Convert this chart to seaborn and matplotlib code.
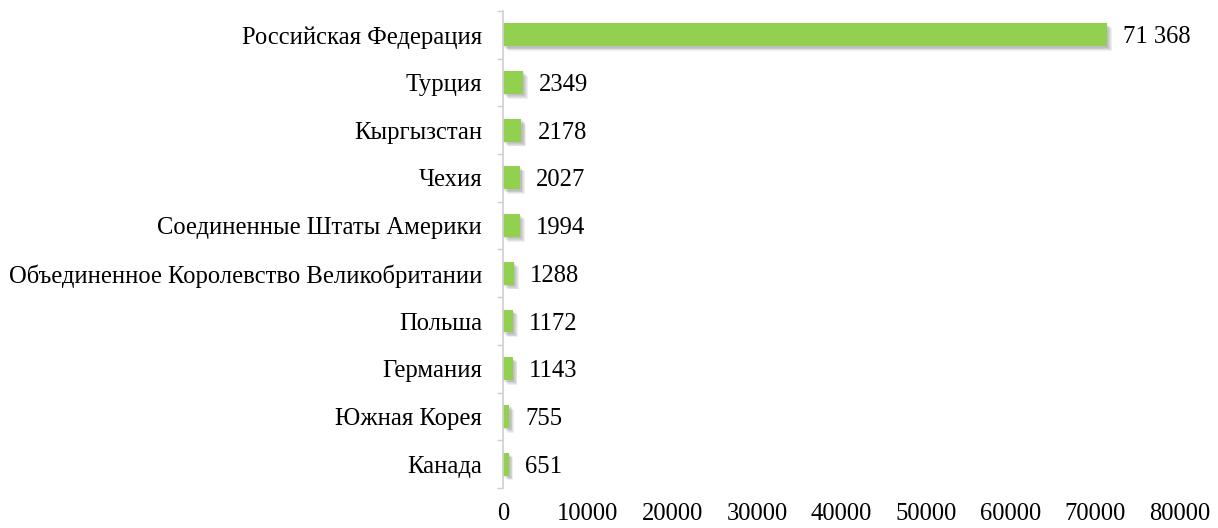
import matplotlib
matplotlib.use("Agg")
import matplotlib.pyplot as plt
import matplotlib.patheffects as pe
from matplotlib.ticker import FixedLocator
import seaborn as sns
import pandas as pd

countries = ["Российская Федерация", "Турция", "Кыргызстан", "Чехия",
             "Соединенные Штаты Америки", "Объединенное Королевство Великобритании",
             "Польша", "Германия", "Южная Корея", "Канада"]
values = [71368, 2349, 2178, 2027, 1994, 1288, 1172, 1143, 755, 651]
value_labels = ["71 368", "2349", "2178", "2027", "1994", "1288", "1172", "1143", "755", "651"]
x_ticks = [0, 10000, 20000, 30000, 40000, 50000, 60000, 70000, 80000]

sns.set_theme(style="white")
plt.rcParams["font.family"] = ["Liberation Serif", "DejaVu Serif"]

df = pd.DataFrame({"country": countries, "value": values})

fig = plt.figure(figsize=(12.18, 5.28), dpi=100)
ax = fig.add_axes([0.413, 0.0758, 0.9688 - 0.413, 0.9792 - 0.0758])

sns.barplot(data=df, x="value", y="country", orient="h", color="#92D050",
            saturation=1, width=0.48, linewidth=0, edgecolor="none", ax=ax)

shadow = [pe.SimplePatchShadow(offset=(o, -o), shadow_rgbFace="#555555", alpha=0.09)
          for o in (1.0, 1.6, 2.2, 2.8, 3.4)]
for p in ax.patches:
    p.set_linewidth(0)
    p.set_path_effects(shadow + [pe.Normal()])

fs = 17.75
for i, (v, lab) in enumerate(zip(values, value_labels)):
    ax.annotate(lab, xy=(v, i), xytext=(11.5, 0), textcoords="offset points",
                ha="left", va="center_baseline", fontsize=fs, color="black")

ax.set_xlim(0, 80000)
ax.set_ylim(len(countries) - 0.5, -0.5)
ax.set_xticks(x_ticks)
ax.set_xticklabels([str(t) for t in x_ticks])
ax.set_xlabel("")
ax.set_ylabel("")

ax.yaxis.set_minor_locator(FixedLocator([i - 0.5 for i in range(len(countries) + 1)]))
ax.tick_params(axis="y", which="major", length=0, pad=15, labelsize=fs, labelcolor="black")
ax.tick_params(axis="y", which="minor", length=4.5, width=1, color="#D0D0D0", left=True)
ax.tick_params(axis="x", which="both", length=0, pad=11, labelsize=fs, labelcolor="black")

for s in ["top", "right", "bottom"]:
    ax.spines[s].set_visible(False)
ax.spines["left"].set_color("#D0D0D0")
ax.spines["left"].set_linewidth(1.2)
ax.grid(False)

fig.savefig("out.png", dpi=100, facecolor="white")
